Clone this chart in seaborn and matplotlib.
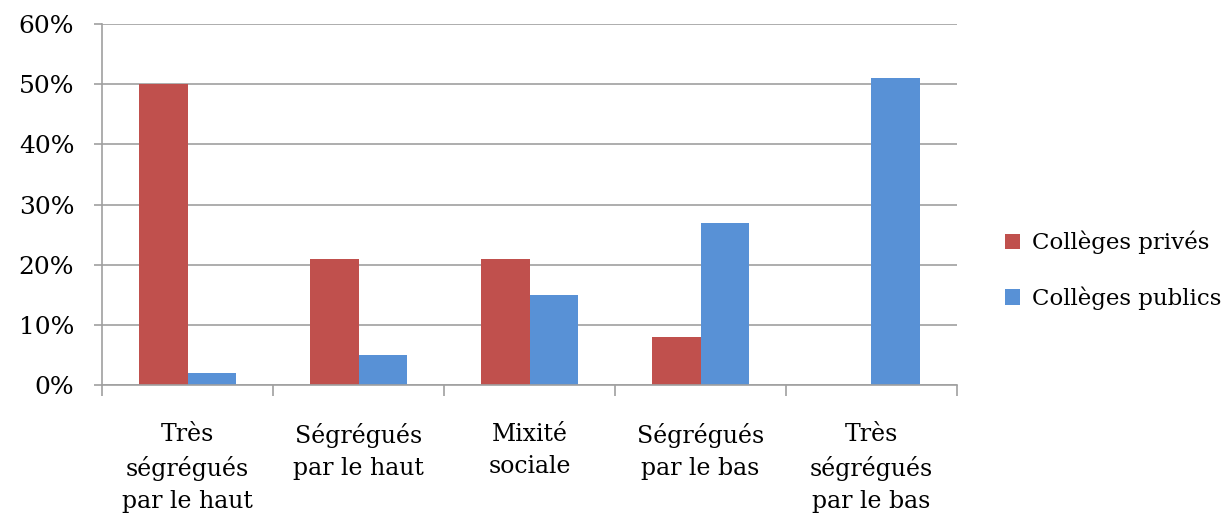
import pandas as pd
import matplotlib.pyplot as plt
import seaborn as sns
from matplotlib.ticker import PercentFormatter, FixedLocator

# Les données
categories = ['Très\nségrégués\npar le haut', 'Ségrégués\npar le haut', 'Mixité\nsociale',
              'Ségrégués\npar le bas', 'Très\nségrégués\npar le bas']
prives = [50, 21, 21, 8, 0]
publics = [2, 5, 15, 27, 51]
series = ['Collèges privés', 'Collèges publics']
couleurs = ['#C0504D', '#5891D6']

df = pd.DataFrame({
    'categorie': categories * 2,
    'valeur': prives + publics,
    'serie': [series[0]] * len(categories) + [series[1]] * len(categories),
})

sns.set_style('white')
plt.rcParams['font.family'] = ['DejaVu Serif']
plt.rcParams['text.color'] = 'black'
plt.rcParams['xtick.labelcolor'] = 'black'
plt.rcParams['ytick.labelcolor'] = 'black'

fig = plt.figure(figsize=(12.31, 5.15), dpi=100)
ax = fig.add_axes([0.0829, 0.2524, 0.6945, 0.701])

sns.barplot(data=df, x='categorie', y='valeur', hue='serie', palette=couleurs,
            width=0.57, gap=0, saturation=1, ax=ax, linewidth=0)

ax.set_ylim(0, 60)
ax.set_xlim(-0.5, len(categories) - 0.5)
ax.set_yticks(range(0, 61, 10))
ax.yaxis.set_major_formatter(PercentFormatter(decimals=0))
ax.grid(axis='y', color='#a0a0a0', linewidth=1.2)
ax.set_axisbelow(True)

# graduations entre les catégories
ax.xaxis.set_minor_locator(FixedLocator([i - 0.5 for i in range(len(categories) + 1)]))
ax.tick_params(axis='x', which='major', length=0, pad=27, labelsize=17)
ax.tick_params(axis='x', which='minor', length=8, width=1.2, color='#a0a0a0', bottom=True)
ax.tick_params(axis='y', length=6, width=1.2, color='#a0a0a0', left=True, labelsize=18, pad=14)
for lab in ax.get_xticklabels():
    lab.set_linespacing(1.5)

for s in ['top', 'right']:
    ax.spines[s].set_visible(False)
for s in ['left', 'bottom']:
    ax.spines[s].set_color('#a0a0a0')
    ax.spines[s].set_linewidth(1.2)

ax.set_xlabel('')
ax.set_ylabel('')

ax.legend(title=None, frameon=False, fontsize=16.5, loc='center left',
          bbox_to_anchor=(0.8, 0.475), bbox_transform=fig.transFigure,
          handlelength=0.65, handleheight=0.65, handletextpad=0.5, labelspacing=1.4)

fig.savefig('out.png', dpi=100)
